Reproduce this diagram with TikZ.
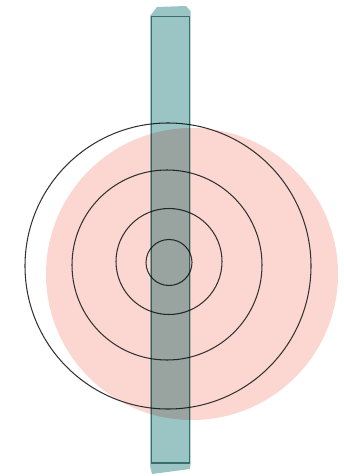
\documentclass[tikz,border=0pt]{standalone}
\usepackage{xcolor}
\usepackage{tikz}
\definecolor{blush}{HTML}{FCD6D0}
\definecolor{stripfill}{HTML}{9BC4C5}
\definecolor{stripline}{HTML}{5F8E90}
\definecolor{ringline}{HTML}{333333}

\begin{document}
\begin{tikzpicture}[x=1pt,y=-1pt,
  ring/.style={draw=ringline,line width=1.05pt},
  blob/.style={fill=blush},
  strip/.style={fill=stripfill,blend mode=multiply},
  stripedge/.style={draw=stripline,line width=1.1pt,blend mode=multiply}]
\useasboundingbox (0,0) rectangle (344,476);
% pink disk behind the rings
\fill[blob] (192,274) circle[radius=146pt];
% rings
\draw[ring] (168,266) circle[radius=143pt];
\draw[ring] (167,265) circle[radius=95pt];
\draw[ring] (169,261.5) circle[radius=53pt];
\draw[ring] (169,262.5) circle[radius=23pt];
% vertical strip with rough ends
\fill[strip] (150,16) -- (157,7) -- (186,6) -- (190.5,11) -- (190.5,464)
  -- (190,469) -- (152,474) -- (150,466) -- cycle;
\draw[stripedge] (151.5,16.5) rectangle (189.5,463);
\end{tikzpicture}
\end{document}
